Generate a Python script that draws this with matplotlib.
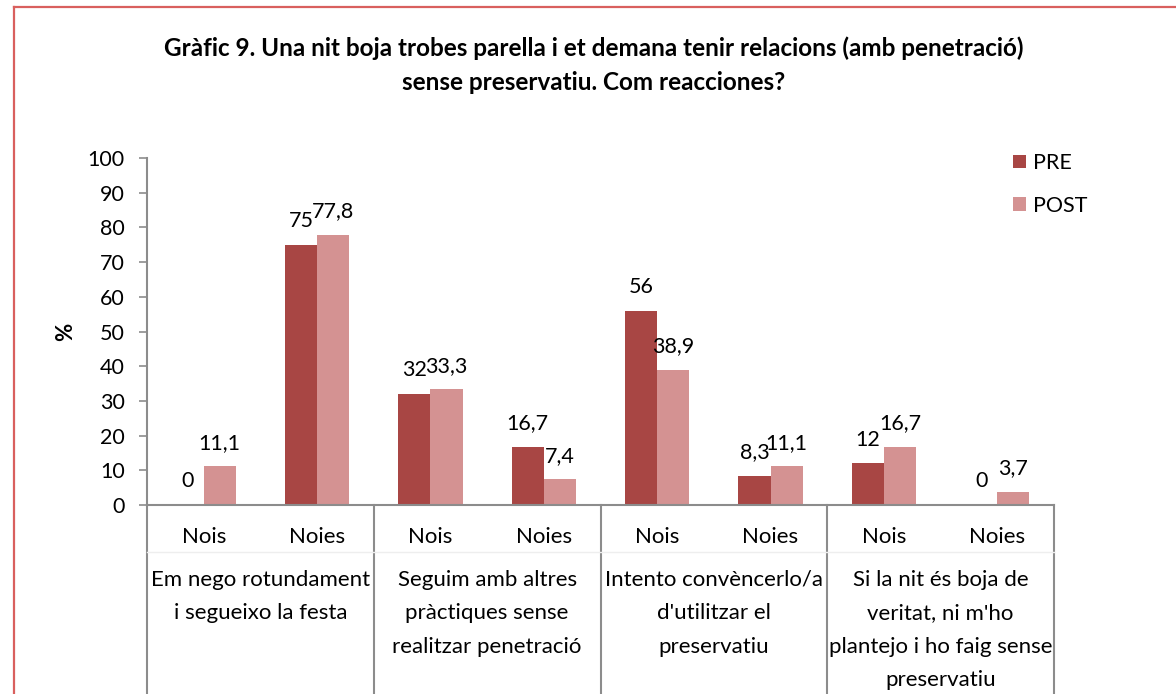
import matplotlib.pyplot as plt
from matplotlib.lines import Line2D
import numpy as np

plt.rcParams['font.family'] = ['Lato', 'DejaVu Sans']

sub_labels = ["Nois", "Noies", "Nois", "Noies", "Nois", "Noies", "Nois", "Noies"]
groups = ["Em nego rotundament\ni segueixo la festa",
          "Seguim amb altres\npràctiques sense\nrealitzar penetració",
          "Intento convèncerlo/a\nd'utilitzar el\npreservatiu",
          "Si la nit és boja de\nveritat, ni m'ho\nplantejo i ho faig sense\npreservatiu"]
pre = [0, 75, 32, 16.7, 56, 8.3, 12, 0]
post = [11.1, 77.8, 33.3, 7.4, 38.9, 11.1, 16.7, 3.7]

c_pre = '#A84644'
c_post = '#D49292'
grey = '#8C8C8C'

W, H = 1176, 694
fig = plt.figure(figsize=(W / 100, H / 100), dpi=100)
ax = fig.add_axes([147 / W, (H - 505) / H, (1054 - 147) / W, (505 - 158) / H])

x = np.arange(len(pre))
w = 0.283
b1 = ax.bar(x - w / 2, pre, w, color=c_pre, label='PRE')
b2 = ax.bar(x + w / 2, post, w, color=c_post, label='POST')


def fmt(v):
    return ('%g' % v).replace('.', ',')


for bars, vals in ((b1, pre), (b2, post)):
    for r, v in zip(bars, vals):
        ax.annotate(fmt(v), (r.get_x() + r.get_width() / 2, v),
                    xytext=(0, 17), textcoords='offset points',
                    ha='center', va='center', fontsize=15.5)

ax.set_xlim(-0.5, len(pre) - 0.5)
ax.set_ylim(0, 100)
ax.set_yticks(range(0, 101, 10))
ax.set_xticks(x)
ax.set_xticklabels(sub_labels, fontsize=16)
ax.tick_params(axis='x', length=0, pad=16)
ax.tick_params(axis='y', direction='out', length=6, width=1.2, color=grey,
               labelsize=15.5, pad=10)
for s in ('top', 'right'):
    ax.spines[s].set_visible(False)
for s in ('left', 'bottom'):
    ax.spines[s].set_color(grey)
    ax.spines[s].set_linewidth(1.5)

ax.set_ylabel('%', fontsize=16, fontweight='bold', labelpad=8)

# category separators below the axis
trans = ax.get_xaxis_transform()
depth = -(H - 505) / (505 - 158)
for sx in np.arange(-0.5, len(pre), 2):
    ax.plot([sx, sx], [0, depth], color=grey, lw=1.5, transform=trans,
            clip_on=False)
ax.plot([-0.5, len(pre) - 0.5], [-(552 - 505) / 347] * 2, color='#EEEEEE',
        lw=1, transform=trans, clip_on=False)

for i, g in enumerate(groups):
    ax.text(2 * i + 0.5, -(570 - 505) / 347, g, transform=trans, ha='center',
            va='top', fontsize=16, linespacing=1.84)

ax.legend(loc='upper left', bbox_to_anchor=(1013 / W, (H - 153) / H),
          bbox_transform=fig.transFigure, frameon=False, fontsize=15.5,
          handlelength=0.6, handleheight=0.6, handletextpad=0.35,
          labelspacing=1.05, borderpad=0, borderaxespad=0)

fig.text(594 / W, (H - 65) / H,
         "Gràfic 9. Una nit boja trobes parella i et demana tenir relacions (amb penetració)\n"
         "sense preservatiu. Com reacciones?",
         ha='center', va='center', fontsize=17.5, fontweight='bold',
         linespacing=1.56)

# outer chart border (left and top)
fig.add_artist(Line2D([14 / W, 14 / W], [0, (H - 7) / H], color='#D9605E',
                      lw=1.6, transform=fig.transFigure))
fig.add_artist(Line2D([14 / W, 1], [(H - 7) / H] * 2, color='#D9605E',
                      lw=1.6, transform=fig.transFigure))

fig.savefig('out.png', dpi=100)
